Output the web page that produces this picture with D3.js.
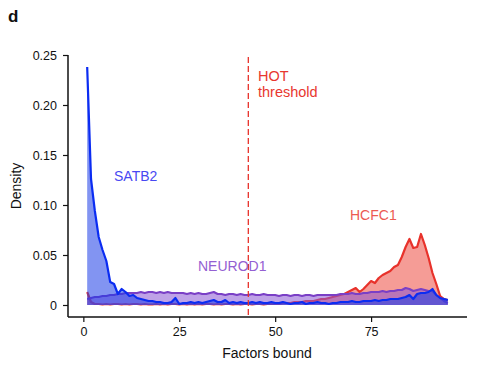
<!DOCTYPE html>
<html>
<head>
<meta charset="utf-8">
<script src="https://cdn.jsdelivr.net/npm/d3@7"></script>
<style>
	body { margin: 0; background: white; }
	svg { display: block; }
	text { font-family: 'Liberation Sans', Arial, sans-serif; }
</style>
</head>
<body>
<div id="chart"></div>
<script>
var factors = [1,2,3,4,5,6,7,8,9,10,11,12,13,14,15,16,17,18,19,20,
	21,22,23,24,25,26,27,28,29,30,31,32,33,34,35,36,37,38,39,40,
	41,42,43,44,45,46,47,48,49,50,51,52,53,54,55,56,57,58,59,60,
	61,62,63,64,65,66,67,68,69,70,71,72,73,74,75,76,77,78,79,80,
	81,82,83,84,85,86,87,88,89,90,91,92,93,94,95]

var satb2 = [0.238,0.126,0.094,0.068,0.055,0.044,0.023,0.021,0.011,0.016,
	0.013,0.009,0.010,0.007,0.006,0.005,0.004,0.004,0.003,0.003,
	0.002,0.002,0.003,0.007,0.001,0.002,0.002,0.003,0.002,0.003,
	0.002,0.003,0.004,0.005,0.003,0.003,0.005,0.002,0.003,0.002,
	0.003,0.002,0.002,0.003,0.002,0.003,0.002,0.002,0.003,0.002,
	0.002,0.003,0.002,0.001,0.002,0.002,0.003,0.001,0.002,0.002,
	0.003,0.002,0.002,0.001,0.002,0.002,0.003,0.003,0.003,0.004,
	0.003,0.003,0.004,0.004,0.004,0.005,0.004,0.005,0.005,0.006,
	0.006,0.006,0.007,0.008,0.010,0.006,0.011,0.012,0.012,0.013,
	0.016,0.010,0.007,0.006,0.005]

var neurod1 = [0.006,0.007,0.008,0.008,0.009,0.009,0.010,0.010,0.011,0.011,
	0.012,0.012,0.012,0.012,0.013,0.012,0.013,0.013,0.012,0.013,
	0.012,0.013,0.012,0.012,0.012,0.012,0.011,0.012,0.011,0.012,
	0.011,0.011,0.012,0.013,0.011,0.011,0.010,0.011,0.011,0.010,
	0.011,0.010,0.010,0.011,0.010,0.010,0.011,0.010,0.010,0.010,
	0.009,0.010,0.010,0.009,0.010,0.010,0.009,0.010,0.010,0.009,
	0.010,0.010,0.010,0.010,0.010,0.010,0.011,0.011,0.011,0.012,
	0.011,0.011,0.012,0.012,0.013,0.013,0.013,0.014,0.013,0.014,
	0.014,0.015,0.015,0.017,0.016,0.014,0.015,0.016,0.015,0.014,
	0.014,0.010,0.007,0.004,0.002]

var hcfc1 = [0.013,0.003,0.001,0.001,0.0005,0.001,0.0005,0.001,0.001,0.0005,
	0.001,0.0005,0.001,0.001,0.0005,0.001,0.0005,0.0005,0.001,0.0005,
	0.001,0.0005,0.001,0.001,0.0005,0.001,0.0005,0.001,0.0005,0.001,
	0.0005,0.001,0.001,0.0005,0.001,0.0005,0.001,0.001,0.0005,0.001,
	0.0005,0.001,0.001,0.0005,0.001,0.001,0.0005,0.001,0.001,0.001,
	0.001,0.002,0.002,0.002,0.003,0.003,0.003,0.004,0.004,0.004,
	0.005,0.006,0.006,0.007,0.008,0.009,0.010,0.011,0.013,0.015,
	0.017,0.013,0.016,0.020,0.024,0.022,0.027,0.030,0.032,0.034,
	0.038,0.040,0.048,0.058,0.066,0.057,0.058,0.071,0.060,0.047,
	0.032,0.021,0.009,0.006,0.005]

var yTicks = [0, 0.05, 0.10, 0.15, 0.20, 0.25]
var xTicks = [0, 25, 50, 75]
var hotThreshold = 43

var series = [
	{name: 'HCFC1', values: hcfc1, line: '#e8322b', fill: '#ec4a40', label: '#ec5a52', lx: 350, ly: 220},
	{name: 'NEUROD1', values: neurod1, line: '#7a3fc6', fill: '#8a55d4', label: '#9460d2', lx: 198, ly: 271},
	{name: 'SATB2', values: satb2, line: '#0b2cf2', fill: '#1c3ce8', label: '#4848f2', lx: 114, ly: 181}
]

var width = 480, height = 370

var svg = d3.select('#chart')
	.append('svg')
	.attr('width', width)
	.attr('height', height)

var x = d3.scaleLinear()
	.domain([-4, 100])
	.range([68, 467])

var y = d3.scaleLinear()
	.domain([-0.012, 0.25])
	.range([317, 55])

// panel letter
svg.append('text')
	.attr('x', 8)
	.attr('y', 22)
	.text('d')
	.style('font-size', '17px')
	.style('font-weight', 700)
	.attr('fill', '#111')

// areas + lines
series.forEach(function(s) {
	var pts = factors.map(function(f, i) { return [f, s.values[i]] })
	svg.append('path')
		.datum(pts)
		.attr('d', d3.area()
			.x(function(d) { return x(d[0]) })
			.y0(y(0))
			.y1(function(d) { return y(d[1]) }))
		.attr('fill', s.fill)
		.attr('fill-opacity', 0.55)
	svg.append('path')
		.datum(pts)
		.attr('d', d3.line()
			.x(function(d) { return x(d[0]) })
			.y(function(d) { return y(d[1]) }))
		.attr('fill', 'none')
		.attr('stroke', s.line)
		.attr('stroke-width', 2.2)
		.attr('stroke-linejoin', 'round')
})

// threshold
svg.append('line')
	.attr('x1', x(hotThreshold))
	.attr('x2', x(hotThreshold))
	.attr('y1', y(0.248))
	.attr('y2', y(-0.012))
	.attr('stroke', '#e8322b')
	.attr('stroke-width', 1.3)
	.attr('stroke-dasharray', '6,3')

svg.append('text')
	.attr('x', 258)
	.attr('y', 81)
	.attr('fill', '#e8372f')
	.style('font-size', '14.5px')
	.selectAll('tspan')
	.data(['HOT', 'threshold'])
	.enter()
	.append('tspan')
	.attr('x', 258)
	.attr('dy', function(d, i) { return i ? 15.5 : 0 })
	.text(function(d) { return d })

// series labels
svg.selectAll('.lbl')
	.data(series)
	.enter()
	.append('text')
	.attr('class', 'lbl')
	.attr('x', function(d) { return d.lx })
	.attr('y', function(d) { return d.ly })
	.attr('fill', function(d) { return d.label })
	.style('font-size', '14px')
	.text(function(d) { return d.name })

// axes
var yAxis = svg.append('g')
	.attr('transform', 'translate(68,0)')
	.call(d3.axisLeft(y)
		.tickValues(yTicks)
		.tickSize(5)
		.tickPadding(6)
		.tickFormat(function(d) { return d === 0 ? '0' : d3.format('.2f')(d) }))
yAxis.select('.domain').attr('d', 'M0,' + y(0.25) + 'V317').attr('stroke', '#111').attr('stroke-width', 1.5)

var xAxis = svg.append('g')
	.attr('transform', 'translate(0,317)')
	.call(d3.axisBottom(x)
		.tickValues(xTicks)
		.tickSize(5)
		.tickPadding(5))
xAxis.select('.domain').attr('d', 'M68,0H467').attr('stroke', '#111').attr('stroke-width', 1.5)

svg.selectAll('.tick line').attr('stroke', '#111').attr('stroke-width', 1.2)
svg.selectAll('.tick text')
	.attr('fill', '#111')
	.style('font-size', '12.5px')
	.style('font-family', "'Liberation Sans', Arial, sans-serif")

svg.append('text')
	.attr('transform', 'translate(21,186) rotate(-90)')
	.attr('text-anchor', 'middle')
	.attr('fill', '#111')
	.style('font-size', '14px')
	.text('Density')

svg.append('text')
	.attr('x', 267)
	.attr('y', 358)
	.attr('text-anchor', 'middle')
	.attr('fill', '#111')
	.style('font-size', '14px')
	.text('Factors bound')
</script>
</body>
</html>
